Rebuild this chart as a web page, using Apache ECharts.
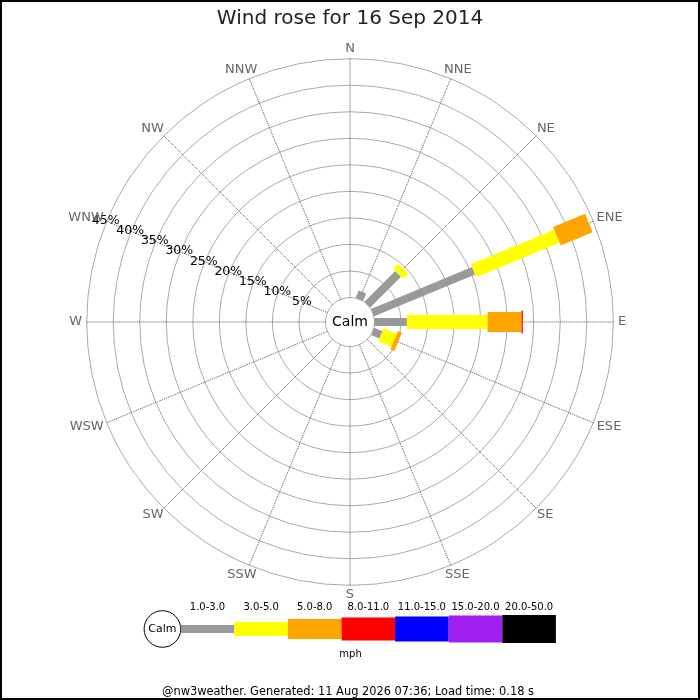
<!DOCTYPE html>
<html><head><meta charset="utf-8">
<script src="https://cdn.jsdelivr.net/npm/echarts@6.0.0/dist/echarts.min.js"></script>
<style>html,body{margin:0;padding:0;background:#fff}#chart{width:700px;height:700px}</style>
</head><body><div id="chart"></div>
<script>
// ---------------- data ----------------
const titleText = 'Wind rose for 16 Sep 2014';
const directions = ['N','NNE','NE','ENE','E','ESE','SE','SSE','S','SSW','SW','WSW','W','WNW','NW','NNW'];
const speedClasses = ['1.0-3.0','3.0-5.0','5.0-8.0','8.0-11.0','11.0-15.0','15.0-20.0','20.0-50.0'];
// percent of time per direction (N ... NNW) for each speed class
const freq_1_3   = [0, 1.5, 8.2, 20.6, 6.1, 1.7, 0, 0, 0, 0, 0, 0, 0, 0, 0, 0];
const freq_3_5   = [0, 0,   1.4, 17.0, 15.2, 2.7, 0, 0, 0, 0, 0, 0, 0, 0, 0, 0];
const freq_5_8   = [0, 0,   0,   6.5,  6.4, 0.8, 0, 0, 0, 0, 0, 0, 0, 0, 0, 0];
const freq_8_11  = [0, 0,   0,   0,    0.25, 0,  0, 0, 0, 0, 0, 0, 0, 0, 0, 0];
const freq_11_15 = [0, 0, 0, 0, 0, 0, 0, 0, 0, 0, 0, 0, 0, 0, 0, 0];
const freq_15_20 = [0, 0, 0, 0, 0, 0, 0, 0, 0, 0, 0, 0, 0, 0, 0, 0];
const freq_20_50 = [0, 0, 0, 0, 0, 0, 0, 0, 0, 0, 0, 0, 0, 0, 0, 0];
const ringTicks = [5, 10, 15, 20, 25, 30, 35, 40, 45];
const calmLabel = 'Calm';
const unitLabel = 'mph';
const footerText = '@nw3weather. Generated: 11 Aug 2026 07:36; Load time: 0.18 s';

// ---------------- styles ----------------
const classColors = ['#999999','#ffff00','#ffa500','#ff0000','#0000ff','#a020f0','#000000'];
const barWidths = [8, 14, 20, 23, 25, 27, 28];
const FONT = '"DejaVu Sans", sans-serif';
const CX = 350, CY = 322;
const RMAX = 45;
const labelAngle = 292.5; // WNW

const allFreq = [freq_1_3, freq_3_5, freq_5_8, freq_8_11, freq_11_15, freq_15_20, freq_20_50];
const step = 360 / directions.length;

const measureCtx = document.createElement('canvas').getContext('2d');
function textWidth(t, font) { measureCtx.font = font; return measureCtx.measureText(t).width; }

function barRenderer(width) {
  return function (params, api) {
    const end = api.value(0), ang = api.value(1), start = api.value(2);
    if (!(end > start)) return null;
    const p0 = api.coord([start, ang]);
    const p1 = api.coord([end, ang]);
    let dx = p1[0] - p0[0], dy = p1[1] - p0[1];
    const len = Math.sqrt(dx * dx + dy * dy) || 1;
    const nx = -dy / len * width / 2, ny = dx / len * width / 2;
    return {
      type: 'polygon',
      shape: { points: [[p0[0] + nx, p0[1] + ny], [p1[0] + nx, p1[1] + ny], [p1[0] - nx, p1[1] - ny], [p0[0] - nx, p0[1] - ny]] },
      style: { fill: classColors[params.seriesIndex], stroke: null }
    };
  };
}

const cumulative = directions.map(() => 0);
const barSeries = speedClasses.map((name, k) => {
  const data = [];
  directions.forEach((d, i) => {
    const v = allFreq[k][i];
    const start = cumulative[i];
    cumulative[i] += v;
    if (v > 0) data.push([start + v, i * step, start]);
  });
  return {
    type: 'custom', name: name, coordinateSystem: 'polar', polarIndex: 0,
    renderItem: barRenderer(barWidths[k]),
    encode: { radius: 0, angle: 1 },
    data: data, z: 5, silent: true
  };
});

const pctSeries = {
  type: 'custom', name: 'pct', coordinateSystem: 'polar',
  encode: { radius: 0, angle: 1 },
  data: ringTicks.map(v => [v, labelAngle]),
  z: 10, silent: true,
  renderItem: function (params, api) {
    const p = api.coord([api.value(0), api.value(1)]);
    return {
      type: 'text', x: p[0] - 1, y: p[1] - 0.5,
      style: { text: api.value(0) + '%', fill: '#000', font: '12.5px ' + FONT,
        align: 'center', verticalAlign: 'middle', textAlign: 'center', textVerticalAlign: 'middle' }
    };
  }
};

const DIR_FONT = '13px ' + FONT;
const dirSeries = {
  type: 'custom', name: 'dirs', coordinateSystem: 'polar',
  encode: { radius: 0, angle: 1 },
  data: directions.map((d, i) => [RMAX, i * step]),
  z: 10, silent: true,
  renderItem: function (params, api) {
    const cs = params.coordSys;
    const p = api.coord([api.value(0), api.value(1)]);
    let ux = p[0] - cs.cx, uy = p[1] - cs.cy;
    const l = Math.sqrt(ux * ux + uy * uy) || 1;
    ux /= l; uy /= l;
    const t = directions[params.dataIndex];
    const hw = textWidth(t, DIR_FONT) / 2, hh = 5;
    const gap = 4.7;
    return {
      type: 'text',
      x: p[0] + ux * gap + hw * ux,
      y: p[1] + uy * gap + hh * uy,
      style: { text: t, fill: '#666', font: DIR_FONT,
        align: 'center', verticalAlign: 'middle', textAlign: 'center', textVerticalAlign: 'middle' }
    };
  }
};

// legend graphic
const legY = 629, segW = 53.6, segX0 = 180.7;
const legendEls = [];
const centered = { align: 'center', verticalAlign: 'middle', textAlign: 'center', textVerticalAlign: 'middle' };
legendEls.push({ type: 'circle', shape: { cx: 162.4, cy: legY, r: 18.3 }, style: { fill: '#fff', stroke: '#000', lineWidth: 1 } });
legendEls.push({ type: 'text', x: 162.4, y: legY, style: Object.assign({ text: calmLabel, fill: '#000', font: '11px ' + FONT }, centered) });
speedClasses.forEach((lab, i) => {
  const h = barWidths[i];
  legendEls.push({ type: 'rect', shape: { x: segX0 + i * segW, y: legY - h / 2, width: segW, height: h }, style: { fill: classColors[i] } });
  legendEls.push({ type: 'text', x: segX0 + (i + 0.5) * segW, y: 607, style: Object.assign({ text: lab, fill: '#000', font: '10px ' + FONT }, centered) });
});
legendEls.push({ type: 'text', x: 350.5, y: 654, style: Object.assign({ text: unitLabel, fill: '#000', font: '10px ' + FONT }, centered) });
legendEls.push({ type: 'text', x: 348, y: 692.5, style: Object.assign({ text: footerText, fill: '#000', font: '11.4px ' + FONT }, centered) });
legendEls.push({ type: 'text', x: CX, y: CY, z: 20, style: Object.assign({ text: calmLabel, fill: '#000', font: '14px ' + FONT }, centered) });
legendEls.push({ type: 'rect', shape: { x: 1, y: 1, width: 698, height: 698 }, style: { fill: 'none', stroke: '#000', lineWidth: 2 } });

const chart = echarts.init(document.getElementById('chart'), null, { renderer: 'canvas' });
chart.setOption({
  animation: false,
  backgroundColor: '#fff',
  title: { text: titleText, left: 'center', top: 4,
    textStyle: { fontFamily: FONT, fontSize: 20, fontWeight: 'normal', color: '#222' } },
  polar: { center: [CX, CY], radius: [24.5, 263.3] },
  angleAxis: {
    type: 'value', min: 0, max: 360, interval: step, startAngle: 90, clockwise: true,
    axisLine: { show: false }, axisTick: { show: false }, axisLabel: { show: false },
    splitLine: { show: true, lineStyle: { color: '#555', type: 'dotted', width: 1 } }
  },
  radiusAxis: {
    type: 'value', min: 0, max: RMAX, interval: 5,
    axisLine: { show: false }, axisTick: { show: false }, axisLabel: { show: false },
    splitLine: { show: true, lineStyle: { color: '#aaa', width: 1, type: 'solid' } }
  },
  graphic: { elements: legendEls },
  series: barSeries.concat([pctSeries, dirSeries])
});
</script></body></html>
